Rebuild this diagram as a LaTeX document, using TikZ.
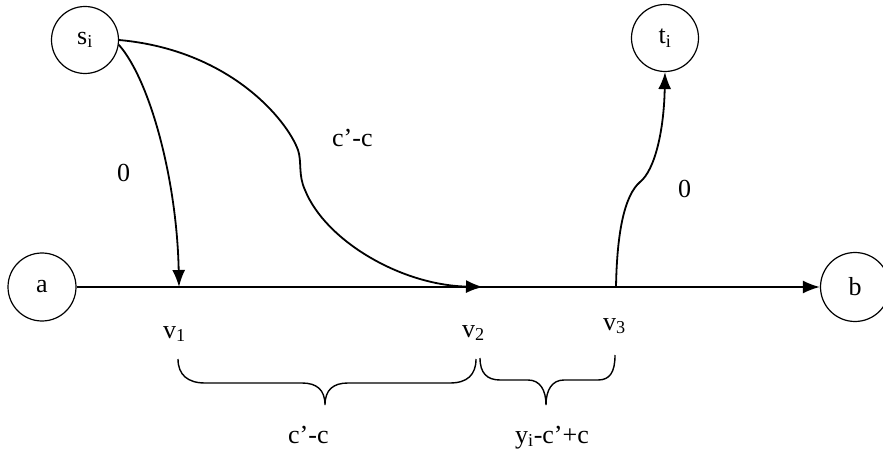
\documentclass[tikz,border=0pt]{standalone}
\usepackage{fontspec}
\setmainfont{Liberation Serif}
\usetikzlibrary{arrows.meta}
\tikzset{
  vert/.style={circle, draw, line width=1.2pt, minimum size=67pt, inner sep=0pt, font=\fontsize{26}{30}\selectfont},
  arr/.style={line width=1.8pt, -{Latex[length=17pt,width=13pt]}},
  lbl/.style={anchor=base west, inner sep=0pt, font=\fontsize{26}{30}\selectfont},
  bracepath/.style={line width=1.4pt}
}
\begin{document}
\begin{tikzpicture}[x=1pt,y=-1pt]
\useasboundingbox (0,0) rectangle (883,454);
\node[vert] (s) at (85,40) {s\textsubscript{i}};
\node[vert] (t) at (665,38) {t\textsubscript{i}};
\node[vert, minimum size=68pt] (a) at (42,287) {a};
\node[vert, minimum size=69pt] (b) at (855,287) {b};
\coordinate (v1) at (179,287);
\coordinate (v2) at (483,287);
\coordinate (v3) at (616,287);
\draw[arr] (a) -- (b);
\draw[arr] (s.-8) .. controls (150,80) and (177,180) .. (v1);
\draw[arr] (s.0) .. controls (230,50) and (287,120) .. (298,150)
   .. controls (302,162) and (298,175) .. (305,190)
   .. controls (325,240) and (400,285) .. (v2);
\draw[arr] (v3) .. controls (617,230) and (625,195) .. (640,182)
   .. controls (655,170) and (664,130) .. (t.south);
\node[lbl] (l0a) at (117,182) {0};
\node[lbl] (lcc) at (332,147) {c’-c};
\node[lbl] (l0b) at (678,198) {0};
\node[lbl] (lv1) at (163,338) {v\textsubscript{1}};
\node[lbl] (lv2) at (462,337) {v\textsubscript{2}};
\node[lbl] (lv3) at (603,330) {v\textsubscript{3}};
\draw[bracepath] (178,359) .. controls (178,375) and (188,383) .. (205,383) -- (302,383)
   .. controls (317,383) and (325,390) .. (325,405)
   .. controls (325,390) and (333,383) .. (348,383) -- (450,383)
   .. controls (467,383) and (476,375) .. (476,359);
\draw[bracepath] (480,358) .. controls (480,373) and (487,380) .. (500,380) -- (528,380)
   .. controls (540,380) and (546,390) .. (546,405)
   .. controls (546,390) and (552,380) .. (564,380) -- (598,380)
   .. controls (610,380) and (615,372) .. (615,355);
\node[lbl] (lb1) at (288,443) {c’-c};
\node[lbl] (lb2) at (515,443) {y\textsubscript{i}-c’+c};
\end{tikzpicture}
\end{document}
